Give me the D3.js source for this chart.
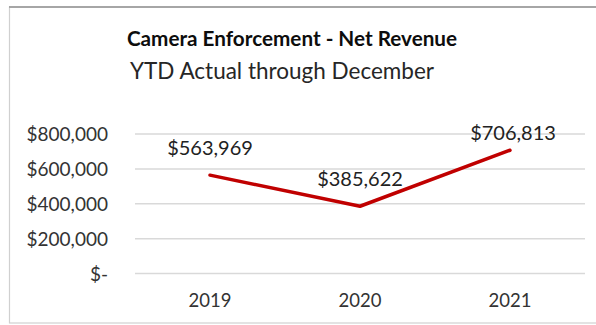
<!DOCTYPE html>
<html>
<head>
<meta charset="utf-8">
<script src="https://cdn.jsdelivr.net/npm/d3@7"></script>
<style>
  html, body { margin: 0; padding: 0; background: #fff; }
  svg { display: block; }
  text { font-family: Lato, "Open Sans", sans-serif; }
</style>
</head>
<body>
<svg id="chart" width="596" height="325"></svg>
<script>
// Net revenue by year
const years = ["2019", "2020", "2021"];
const revenue = [563969, 385622, 706813];
const yTicks = [0, 200000, 400000, 600000, 800000];
const titleText = "Camera Enforcement - Net Revenue";
const subtitleText = "YTD Actual through December";

const svg = d3.select("#chart");
const W = 596, H = 325;

// chart frame
svg.append("rect").attr("x", 9.5).attr("y", 7).attr("width", 600).attr("height", 316)
  .attr("fill", "#fff").attr("stroke", "#d0d0d0").attr("stroke-width", 1.2);
svg.append("line").attr("x1", 9).attr("x2", W).attr("y1", 7).attr("y2", 7)
  .attr("stroke", "#a6a6a6").attr("stroke-width", 2);

const plot = { left: 135, right: 585, top: 134, bottom: 273.5 };

const x = d3.scaleBand().domain(years).range([plot.left, plot.right]);
const y = d3.scaleLinear().domain([0, 800000]).range([plot.bottom, plot.top]);

// titles
svg.append("text").attr("x", 292).attr("y", 46).attr("text-anchor", "middle")
  .attr("font-size", 20.7).attr("font-weight", "bold").attr("fill", "#0d0d0d")
  .text(titleText);
svg.append("text").attr("x", 282).attr("y", 79).attr("text-anchor", "middle")
  .attr("font-size", 22.5).attr("fill", "#262626")
  .text(subtitleText);

// gridlines
svg.append("g").selectAll("line").data(yTicks).join("line")
  .attr("x1", plot.left).attr("x2", plot.right)
  .attr("y1", d => y(d)).attr("y2", d => y(d))
  .attr("stroke", "#d9d9d9").attr("stroke-width", 1.5);

// y axis labels
const fmt = d => d === 0 ? "$-" : "$" + d3.format(",")(d);
const yAxis = d3.axisLeft(y).tickValues(yTicks).tickFormat(fmt).tickSize(0).tickPadding(27);
const gy = svg.append("g").attr("transform", `translate(${plot.left},0)`).call(yAxis);
gy.select(".domain").remove();
gy.selectAll("text").attr("font-size", 19).attr("fill", "#333333")
  .style("font-family", "Lato, 'Open Sans', sans-serif").attr("dy", "0.35em");

// x axis labels
const xAxis = d3.axisBottom(x).tickSize(0).tickPadding(20);
const gx = svg.append("g").attr("transform", `translate(0,${plot.bottom})`).call(xAxis);
gx.select(".domain").remove();
gx.selectAll("text").attr("font-size", 18.5).attr("fill", "#333333")
  .style("font-family", "Lato, 'Open Sans', sans-serif");

// revenue line
const pts = years.map((yr, i) => [x(yr) + x.bandwidth() / 2, y(revenue[i])]);
svg.append("path").attr("d", d3.line()(pts))
  .attr("fill", "none").attr("stroke", "#c00000").attr("stroke-width", 3.5)
  .attr("stroke-linejoin", "round").attr("stroke-linecap", "round");

// value labels above points, kept inside plot area
svg.append("g").selectAll("text").data(revenue).join("text")
  .attr("x", (d, i) => x(years[i]) + x.bandwidth() / 2 + (i === 2 ? 3 : 0))
  .attr("y", d => Math.max(y(d) - 20, 140))
  .attr("text-anchor", "middle").attr("font-size", 20).attr("fill", "#222222")
  .text(d => "$" + d3.format(",")(d));
</script>
</body>
</html>
